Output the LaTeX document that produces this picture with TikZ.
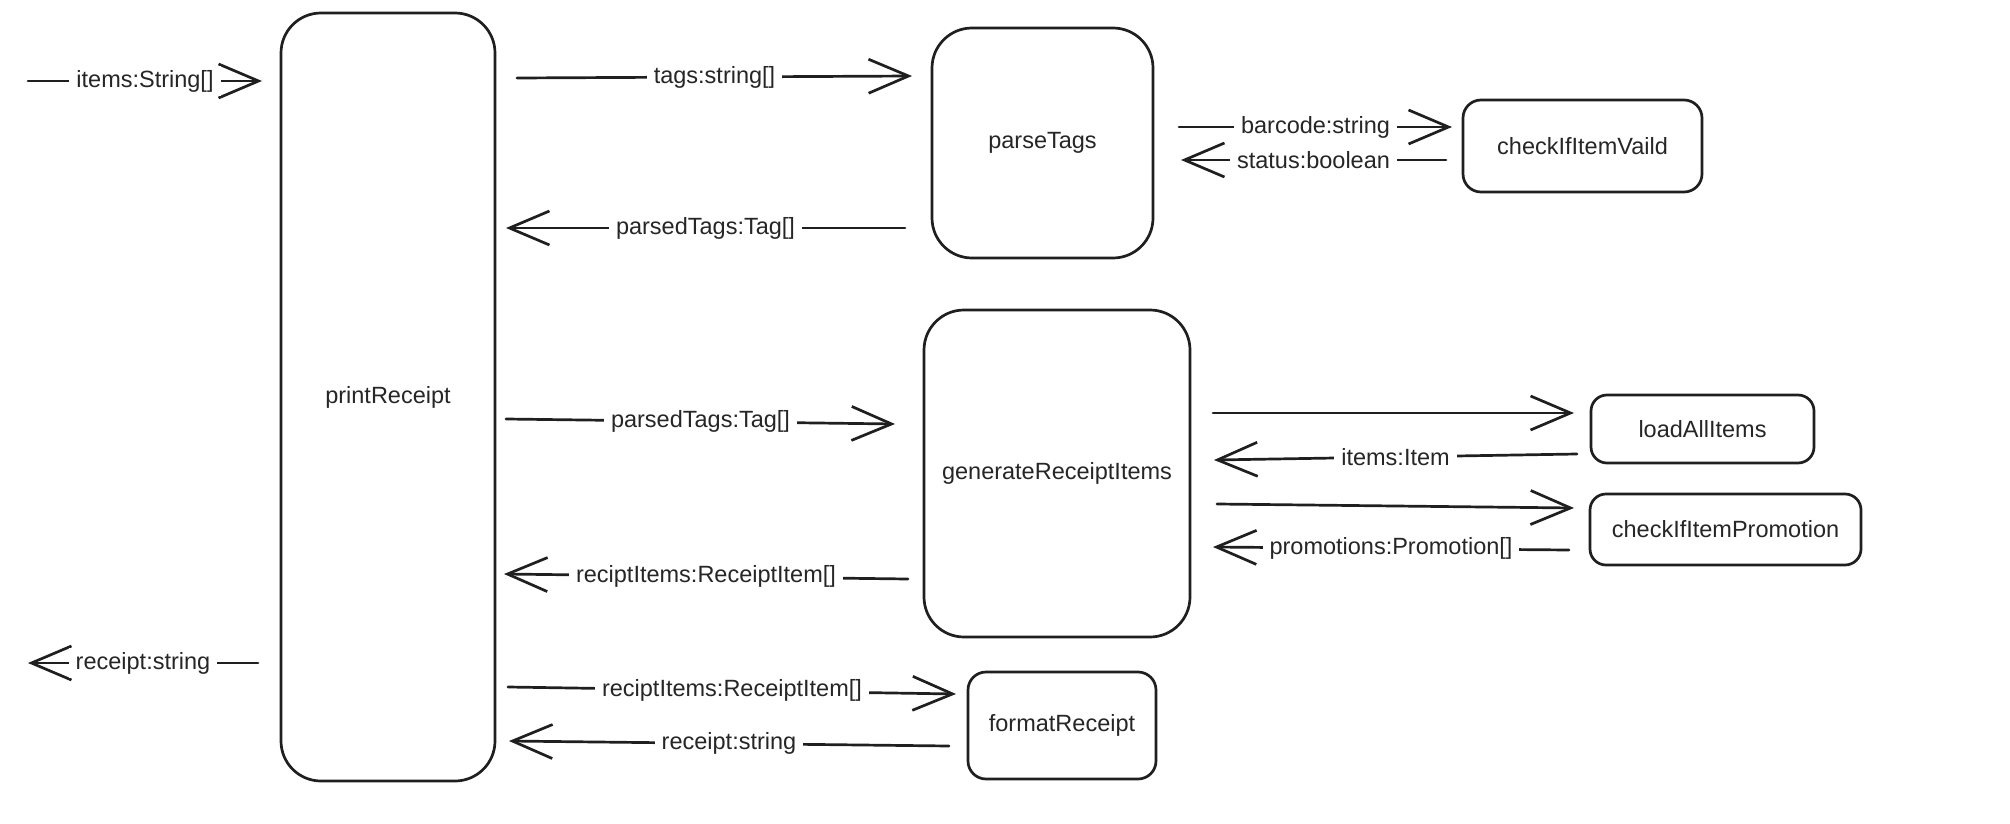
\documentclass[tikz,border=0pt]{standalone}
\usepackage{fontspec}
\setmainfont{Liberation Sans}
\usetikzlibrary{arrows.meta}
\begin{document}
\begin{tikzpicture}[x=1pt,y=-1pt,
  box/.style={draw=black!88, line width=2.7pt, rounded corners=#1, inner sep=0pt,
    font=\fontsize{23.5}{28}\selectfont, text=black!85},
  arr/.style={draw=black!88, line width=2.7pt, line cap=round,
    -{Straight Barb[length=40pt,width=34pt,line width=2.7pt]}},
  lbl/.style={fill=white, inner xsep=7pt, inner ysep=4pt,
    font=\fontsize{23.5}{28}\selectfont, text=black!85}]
\useasboundingbox (0,0) rectangle (2010,824);

% boxes
\node[box=40pt, minimum width=214pt, minimum height=768pt] (pr) at (388,397) {printReceipt};
\node[box=40pt, minimum width=221pt, minimum height=230pt] (pt) at (1042.5,143) {parseTags};
\node[box=18pt, minimum width=239pt, minimum height=92pt] (cv) at (1582.5,146) {checkIfItemVaild};
\node[box=40pt, minimum width=266pt, minimum height=327pt] (gr) at (1057,473.5) {generateReceiptItems};
\node[box=16pt, minimum width=223pt, minimum height=68pt] (la) at (1702.5,429) {loadAllItems};
\node[box=16pt, minimum width=271pt, minimum height=71pt] (cp) at (1725.5,529.5) {checkIfItemPromotion};
\node[box=18pt, minimum width=188pt, minimum height=107pt] (fr) at (1062,725.5) {formatReceipt};

% connector end points
\coordinate (in0) at (28,81);   \coordinate (in1) at (262,81);
\coordinate (t0) at (517,78);   \coordinate (t1) at (912,76);
\coordinate (p0) at (905,228);  \coordinate (p1) at (506,228);
\coordinate (b0) at (1179,127); \coordinate (b1) at (1452,127);
\coordinate (s0) at (1446,160); \coordinate (s1) at (1181,160);
\coordinate (q0) at (506,419);  \coordinate (q1) at (895,424);
\coordinate (r0) at (908,579);  \coordinate (r1) at (504,574);
\coordinate (o0) at (258,663);  \coordinate (o1) at (28,663);
\coordinate (f0) at (508,687);  \coordinate (f1) at (956,694);
\coordinate (g0) at (949,746);  \coordinate (g1) at (509,741);
\coordinate (l0) at (1213,413); \coordinate (l1) at (1574,413);
\coordinate (i0) at (1577,454); \coordinate (i1) at (1214,460);
\coordinate (c0) at (1217,504); \coordinate (c1) at (1574,508);
\coordinate (m0) at (1569,550); \coordinate (m1) at (1213,547);

% connectors
\draw[arr] (in0) -- node[lbl] {items:String[]} (in1);
\draw[arr] (t0) -- node[lbl] {tags:string[]} (t1);
\draw[arr] (p0) -- node[lbl] {parsedTags:Tag[]} (p1);
\draw[arr] (b0) -- node[lbl] {barcode:string} (b1);
\draw[arr] (s0) -- node[lbl] {status:boolean} (s1);
\draw[arr] (q0) -- node[lbl] {parsedTags:Tag[]} (q1);
\draw[arr] (r0) -- node[lbl] {reciptItems:ReceiptItem[]} (r1);
\draw[arr] (o0) -- node[lbl] {receipt:string} (o1);
\draw[arr] (f0) -- node[lbl] {reciptItems:ReceiptItem[]} (f1);
\draw[arr] (g0) -- node[lbl] {receipt:string} (g1);
\draw[arr] (l0) -- (l1);
\draw[arr] (i0) -- node[lbl] {items:Item} (i1);
\draw[arr] (c0) -- (c1);
\draw[arr] (m0) -- node[lbl] {promotions:Promotion[]} (m1);
\end{tikzpicture}
\end{document}
